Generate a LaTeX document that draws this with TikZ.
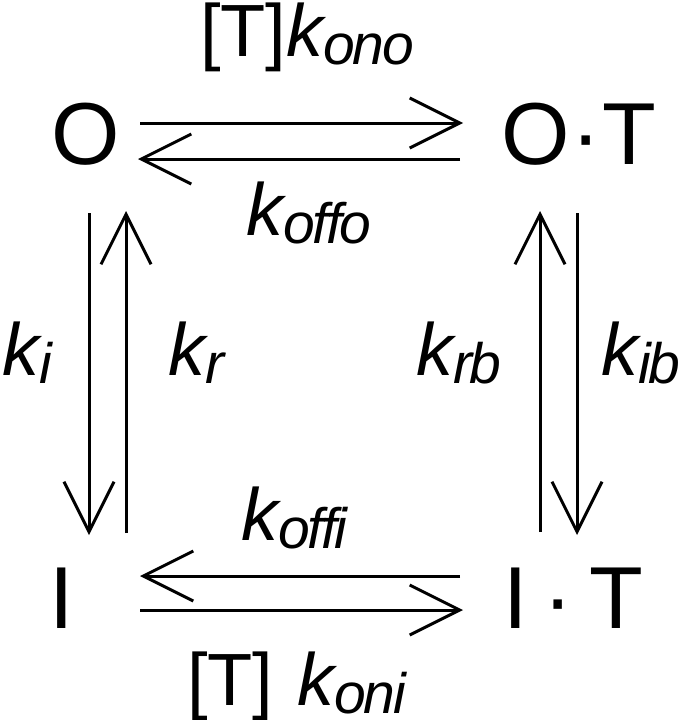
\documentclass[tikz,border=0pt]{standalone}
\usepackage{fontspec}
\setmainfont{Liberation Sans}
\newfontfamily\subfont[LetterSpace=-4]{Liberation Sans}
\usetikzlibrary{arrows.meta}
\newcommand{\krate}[1]{{\fontsize{74}{74}\selectfont\itshape k}\raisebox{-8pt}{\fontsize{57}{57}\subfont\itshape #1}}
\newcommand{\conc}{{\fontsize{74}{74}\selectfont [T]}}
\begin{document}
\begin{tikzpicture}[x=1pt,y=-1pt,
  conn/.style={line width=3pt,-{Straight Barb[length=50pt,width=50pt]}},
  state/.style={inner sep=0pt,font=\fontsize{88}{88}\selectfont},
  lab/.style={inner sep=0pt}]
\useasboundingbox (0,0) rectangle (678,720);
% states
\node[state,anchor=base west] (O) at (51,164) {O};
\node[state,anchor=base west] (OT) at (501,164) {O\hspace{2pt}·\hspace{2pt}T};
\node[state,anchor=base west] (I) at (49,628) {I};
\node[state,anchor=base east] (IT) at (643,628) {I\hspace{16pt}·\hspace{16pt}T};
% connector end points
\coordinate (a1) at (140,123); \coordinate (a2) at (463,123);
\coordinate (b1) at (460,159); \coordinate (b2) at (138,159);
\coordinate (c1) at (460,576); \coordinate (c2) at (140,576);
\coordinate (d1) at (140,610); \coordinate (d2) at (463,610);
\coordinate (e1) at (89,213);  \coordinate (e2) at (89,535);
\coordinate (f1) at (126,533); \coordinate (f2) at (126,211);
\coordinate (g1) at (540,532); \coordinate (g2) at (540,211);
\coordinate (h1) at (577,213); \coordinate (h2) at (577,535);
\draw[conn] (a1) -- (a2);
\draw[conn] (b1) -- (b2);
\draw[conn] (c1) -- (c2);
\draw[conn] (d1) -- (d2);
\draw[conn] (e1) -- (e2);
\draw[conn] (f1) -- (f2);
\draw[conn] (g1) -- (g2);
\draw[conn] (h1) -- (h2);
% labels
\node[lab,anchor=base west] (lono) at (200,56) {\conc\krate{ono}};
\node[lab,anchor=base west] (loffo) at (246,235) {\krate{offo}};
\node[lab,anchor=base west] (li) at (2,375) {\krate{i}};
\node[lab,anchor=base west] (lr) at (168,375) {\krate{r}};
\node[lab,anchor=base west] (lrb) at (416,375) {\krate{rb}};
\node[lab,anchor=base west] (lib) at (601,375) {\krate{ib}};
\node[lab,anchor=base west] (loffi) at (241,540) {\krate{offi}};
\node[lab,anchor=base west] (loni) at (187,705) {\conc\hspace{24pt}\krate{oni}};
\end{tikzpicture}
\end{document}
